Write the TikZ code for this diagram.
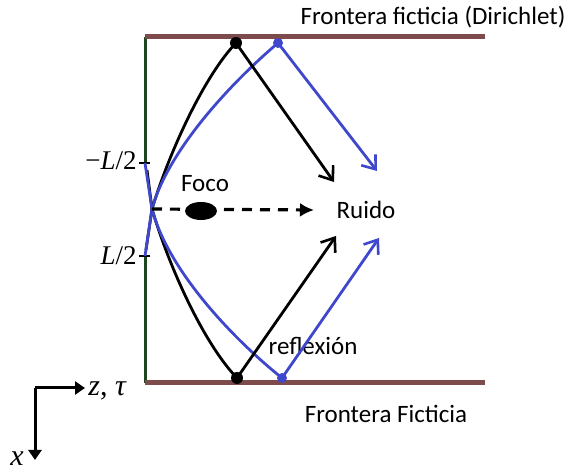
\documentclass[tikz,border=0pt]{standalone}
\usepackage{fontspec}
\setmainfont{Carlito}
\newfontfamily\mfont{Liberation Serif}
\usetikzlibrary{arrows.meta,shapes.geometric}
\definecolor{brownb}{RGB}{125,75,75}
\definecolor{darkg}{RGB}{30,70,30}
\definecolor{bluel}{RGB}{63,72,204}
\tikzset{
  lbl/.style={font=\fontsize{12.5}{15}\selectfont, inner sep=0pt},
  mlbl/.style={font=\mfont\fontsize{13.5}{15}\selectfont, inner sep=0pt},
  bdot/.style={circle, fill=black, inner sep=0pt, minimum size=6pt},
  udot/.style={circle, fill=bluel, inner sep=0pt, minimum size=5pt},
  wall/.style={brownb, line width=2.5pt},
  ray/.style={line width=1.4pt},
  bray/.style={bluel, line width=1.4pt},
  barb/.style={-{Straight Barb[length=6pt,width=9pt,line width=1.3pt]}},
  axis/.style={line width=1.5pt, -{Triangle[length=5pt,width=6.5pt]}},
}
\begin{document}
\begin{tikzpicture}[x=0.5pt,y=-0.5pt]
\useasboundingbox (0,0) rectangle (569,474);
% coordinates
\coordinate (TL) at (145,37);
\coordinate (TR) at (485,37);
\coordinate (BL) at (145,383);
\coordinate (BR) at (485,383);
\coordinate (mL) at (145,163);
\coordinate (pL) at (145,256);
\coordinate (cross) at (152,209);
% walls
\draw[darkg, line width=1.5pt] (TL) -- (mL);
\draw[darkg, line width=1.5pt] (pL) -- (BL);
\draw[wall] (TL) -- (TR);
\draw[wall] (BL) -- (BR);
% ticks
\draw[line width=0.6pt] (139,163) -- (150,163);
\draw[line width=0.6pt] (139,256) -- (150,256);
\node[mlbl, anchor=east] (mLl) at (137,161) {−\textit{L}/2};
\node[mlbl, anchor=east] (pLl) at (137,256) {\textit{L}/2};
% dots
\node[bdot] (kt) at (236,43) {};
\node[udot] (ut) at (278,43) {};
\node[bdot] (kb) at (237,378) {};
\node[udot] (ub) at (282,378) {};
% curves
\draw[ray] (146,250) -- (cross) .. controls (170,150) and (205,75) .. (kt.center);
\draw[bray] (pL) -- (cross) .. controls (168,150) and (232,82) .. (ut.center);
\draw[ray] (147,170) -- (cross) .. controls (170,270) and (205,345) .. (kb.center);
\draw[bray] (mL) -- (cross) .. controls (168,270) and (232,338) .. (ub.center);
% labels
\node[lbl] (ruido) at (366,210) {Ruido};
\node[lbl] (foco) at (205,184) {Foco};
\node[lbl] (refl) at (313,346) {reflexión};
\node[lbl] (ft) at (433,17) {Frontera ficticia (Dirichlet)};
\node[lbl] (fb) at (386,414) {Frontera Ficticia};
% rays to noise
\coordinate (a1) at (334,182);
\coordinate (a2) at (377,171);
\coordinate (a3) at (336,236);
\coordinate (a4) at (379,238);
\draw[ray, barb] (kt.center) -- (a1);
\draw[bray, barb] (ut.center) -- (a2);
\draw[ray, barb] (kb.center) -- (a3);
\draw[bray, barb] (ub.center) -- (a4);
% focus
\coordinate (dend) at (314,210);
\draw[line width=1.6pt, dash pattern=on 5pt off 4pt, -{Latex[length=7pt,width=7pt]}] (cross) -- (dend);
\node[ellipse, fill=black, minimum width=16pt, minimum height=9pt, inner sep=0pt] (focus) at (201,211) {};
% axes
\coordinate (O) at (35,388);
\coordinate (Oz) at (85,388);
\coordinate (Ox) at (35,460);
\draw[axis] (O) -- (Oz);
\draw[axis] (O) -- (Ox);
\node[mlbl, anchor=west, font=\mfont\fontsize{15}{17}\selectfont] (zl) at (88,391) {\textit{z}, \textit{τ}};
\node[mlbl, font=\mfont\fontsize{15}{17}\selectfont] (xl) at (17,459) {\textit{x}};
\end{tikzpicture}
\end{document}
